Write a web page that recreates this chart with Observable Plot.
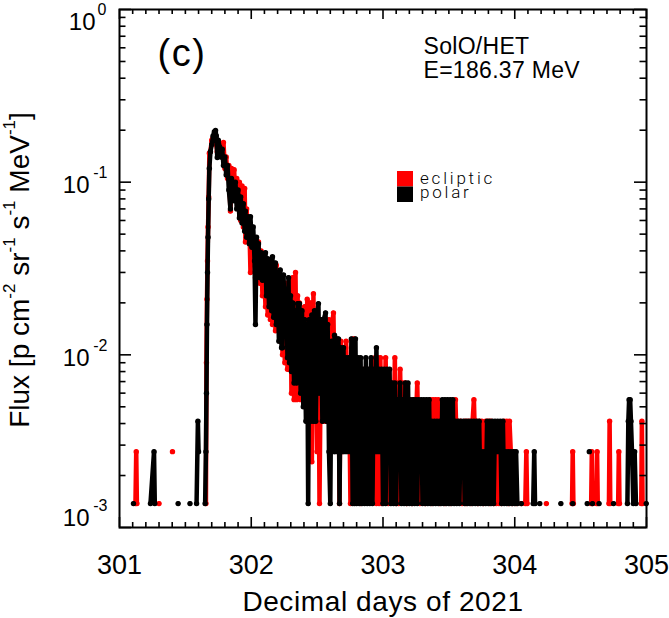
<!DOCTYPE html>
<html><head><meta charset="utf-8">
<script src="https://cdn.jsdelivr.net/npm/d3@7"></script>
<script src="https://cdn.jsdelivr.net/npm/@observablehq/plot@0.6"></script>
<style>
html,body{margin:0;padding:0;background:#fff;}
#chart{width:669px;height:618px;overflow:hidden;}
</style></head><body><div id="chart"></div>
<script>
// Shared time stamps (decimal days of 2021)
const days = [
301.106,301.121,301.127,301.132,301.150,301.235,301.262,301.268,301.280,301.300,
301.320,301.402,301.420,301.445,301.460,301.535,301.550,301.585,301.595,301.600,
301.610,301.650,301.656,301.660,301.664,301.668,301.672,301.677,301.682,301.690,
301.700,301.710,301.720,301.729,301.735,301.742,301.750,301.760,301.770,301.780,
301.789,301.800,301.810,301.820,301.830,301.842,301.850,301.860,301.870,301.880,
301.890,301.900,301.910,301.920,301.930,301.940,301.950,301.956,301.965,301.975,
301.985,301.994,302.005,302.015,302.025,302.032,302.040,302.047,302.055,302.065,
302.075,302.085,302.095,302.108,302.115,302.125,302.135,302.145,302.155,302.161,
302.170,302.184,302.190,302.199,302.210,302.220,302.230,302.237,302.245,302.255,
302.265,302.275,302.283,302.290,302.298,302.305,302.315,302.325,302.336,302.345,
302.352,302.359,302.366,302.375,302.385,302.395,302.405,302.415,302.425,302.432,
302.440,302.450,302.460,302.472,302.480,302.490,302.500,302.510,302.518,302.530,
302.540,302.550,302.564,302.572,302.580,302.590,302.600,302.610,302.624,302.632,
302.640,302.650,302.662,302.670,302.680,302.690,302.700,302.710,302.720,302.730,
302.740,302.753,302.760,302.770,302.776,302.784,302.791,302.800,
302.81,302.82,302.83,302.84,302.85,302.86,302.87,302.88,302.89,302.90,
302.91,302.92,302.93,302.94,302.95,302.96,302.97,302.98,302.99,303.00,
303.01,303.02,303.03,303.04,303.05,303.06,303.07,303.08,303.09,303.10,
303.11,303.12,303.13,303.14,303.15,303.16,303.17,303.18,303.19,303.20,
303.21,303.22,303.23,303.24,303.25,303.26,303.27,303.28,303.29,303.30,
303.31,303.32,303.33,303.34,303.35,303.36,303.37,303.38,303.39,303.40,
303.41,303.42,303.43,303.44,303.45,303.46,303.47,303.48,303.49,303.50,
303.51,303.52,303.53,303.54,303.55,303.56,303.57,303.58,303.59,303.60,
303.61,303.62,303.63,303.64,303.65,303.66,303.67,303.68,303.69,303.70,
303.71,303.72,303.73,303.74,303.75,303.76,303.77,303.78,303.79,303.80,
303.81,303.82,303.83,303.84,303.85,303.86,303.87,303.88,303.89,303.90,
303.91,303.92,303.93,303.94,303.95,303.96,303.97,303.98,303.99,304.00,
304.01,304.02,
304.030,304.050,304.060,304.080,304.088,304.094,304.100,304.140,304.148,304.154,
304.160,304.190,304.200,304.240,304.250,304.350,304.360,304.435,304.440,304.445,
304.455,304.550,304.557,304.566,304.573,304.580,304.585,304.590,304.597,304.620,
304.625,304.630,304.640,304.650,304.715,304.720,304.725,304.735,304.750,304.760,
304.785,304.790,304.795,304.805,304.855,304.862,304.868,304.876,304.882,304.890,
304.900,304.910,304.920,304.930,304.960,304.965,304.970,304.980,304.998
];
// Ecliptic-sector flux, in units of 1e-3 p cm^-2 sr^-1 s^-1 MeV^-1 (null = no counts)
const ecliptic = [
null,1.375,2.75,1.375,null,null,null,null,null,1.375,
null,2.75,null,null,null,null,null,null,null,null,
null,null,1.375,9,21,35,55,82,147,150,
175,180,185,172,165,150,168,150,160,140,
170,120,140,105,125,68,120,85,118,80,
105,75,100,60,95,55,92,45,70,48,
60,30,52,40,46,28,46,30,45,26,
40,22,36,19,34,17,32,16,33,15,
30,13.8,33,14,28,12,26,10,24,9,
26,8.25,25,8.25,27,6,28,5.5,30,5.5,
22,6,20,5.5,18,6,19,5,21,8,
4.125,20,2.4,22.6,4.125,18,2.75,15,1.375,14,
4.125,13,4.125,15,4.125,16,4.125,14,17.5,5.5,
12,4.125,11,1.375,12,2.75,11,4.125,12,5.5,
9.625,1.375,11,4.125,12.375,4.125,9.625,2.75,
4.125,8.25,1.375,6.875,2.75,8.25,4.125,5.5,2.75,8.25,
4.125,6.875,2.75,9.625,1.375,9.625,1.375,9.625,1.375,6.875,
2.75,9.625,2.75,1.375,5.5,2.75,5.5,2.75,9.625,1.375,
6.875,1.375,8.25,2.75,6.875,2.75,6.875,1.375,5.5,2.75,
4.125,1.375,5.5,2.75,4.125,6.875,2.75,1.375,4.125,2.75,
4.125,1.375,4.125,2.75,4.125,5.5,1.375,5.5,2.75,5.5,
2.75,5.5,1.375,4.125,2.75,4.125,1.375,4.125,2.75,4.125,
1.375,4.125,2.75,4.125,5.5,2.75,4.125,2.75,4.125,1.375,
2.75,4.125,1.375,4.125,2.75,4.125,1.375,4.125,5.5,2.75,
4.125,1.375,4.125,2.75,4.125,1.375,2.75,4.125,2.75,4.125,
1.375,4.125,2.75,1.375,2.75,1.375,2.75,1.375,2.75,1.375,
2.75,4.125,2.75,4.125,1.375,4.125,2.75,1.375,2.75,2.75,
1.375,null,
null,1.375,null,1.375,2.75,1.375,null,null,null,null,
null,null,null,1.375,null,null,null,1.375,2.75,1.375,
null,null,null,null,null,1.375,2.75,1.375,null,1.375,
2.75,1.375,null,null,1.375,4.125,1.375,null,null,null,
1.375,2.75,1.375,null,null,null,null,null,null,null,
null,null,null,null,1.375,4.125,1.375,null,null
];
// Polar-sector flux, same units
const polar = [
1.375,null,null,null,null,1.375,2.75,1.375,null,null,
null,null,null,1.375,null,1.375,null,1.375,4.125,2.75,
null,1.375,2.75,6,15,30,48,80,120,150,
165,185,196,199,185,139,175,160,140,155,
125,140,110,125,90,70,105,100,78,100,
70,90,62,82,58,75,52,68,48,63,
44,63,42,55,35,15,48,32,44,28,
39,27,37,39,22,36,19,35,18,37,
16.5,34,15,30,12,31,11,11,29,14,
24,9.625,28,9,22,8,20,6.875,18,6.875,
19.8,9.625,19.8,6,18,5,16,4.125,15,1.375,
16,4.125,17,4.125,18,4.125,17,19.8,6,16,
4.125,16,17.5,4.125,15,2.75,1.375,12,2.75,13,
2.75,12.375,12.375,1.375,11,2.75,11,2.75,9.625,2.75,
9.625,2.75,12.375,1.375,9.625,1.375,12.375,1.375,
9.625,1.375,9.625,1.375,8.25,1.375,9.625,1.375,8.25,1.375,
9.625,1.375,8.25,2.75,11,2.75,8.25,2.75,8.25,1.375,
8.25,1.375,8.25,2.75,8.25,1.375,6.875,1.375,6.875,1.375,
5.5,2.75,6.875,1.375,5.5,1.375,6.875,1.375,6.875,1.375,
5.5,1.375,5.5,1.375,5.5,1.375,5.5,2.75,5.5,1.375,
5.5,1.375,5.5,1.375,5.5,1.375,4.125,1.375,4.125,1.375,
4.125,1.375,4.125,1.375,5.5,1.375,5.5,1.375,5.5,1.375,
5.5,1.375,5.5,1.375,4.125,1.375,4.125,1.375,4.125,2.75,
4.125,1.375,4.125,1.375,4.125,1.375,4.125,1.375,4.125,1.375,
4.125,1.375,4.125,1.375,2.75,1.375,2.75,1.375,4.125,1.375,
4.125,1.375,4.125,1.375,4.125,2.75,4.125,2.75,4.125,1.375,
4.125,1.375,2.75,1.375,2.75,1.375,2.75,1.375,2.75,1.375,
2.75,1.375,
null,1.375,null,null,null,null,null,1.375,2.75,1.375,
null,1.375,null,null,null,1.375,null,null,1.375,null,
null,1.375,null,2.75,null,null,null,1.375,null,null,
null,null,1.375,null,null,null,null,null,1.375,null,
null,null,null,null,1.375,4.125,5.5,5.5,4.125,2.75,
1.375,2.75,1.375,null,null,null,null,null,1.375
];
const xTickValues = [301, 302, 303, 304, 305];
const yTickValues = [1e-3, 1e-2, 1e-1, 1];
const seriesNames = ["ecliptic", "polar"];
const seriesColors = ["#ff0000", "#000000"];

const table = days.map((t, i) => ({
  t,
  ecl: ecliptic[i] == null ? NaN : ecliptic[i] * 1e-3,
  pol: polar[i] == null ? NaN : polar[i] * 1e-3
}));

const W = 669, H = 618, mL = 119, mR = 23, mT = 9, mB = 91;
const frameH = H - mT - mB, frameW = W - mL - mR;
const xMinor = d3.range(3011, 3050).filter(k => k % 10 !== 0).map(k => k / 10);
const yMinor = [];
for (const dec of [1e-3, 1e-2, 1e-1]) for (let m = 2; m <= 9; m++) yMinor.push(m * dec);
const expOf = d => String(Math.round(Math.log10(d)));
const font = "Liberation Sans, Arial, Helvetica, sans-serif";
const tk = {stroke: "black", strokeWidth: 1.6};
const XTITLE = "Decimal days of 2021";

const plot = Plot.plot({
  width: W, height: H,
  marginLeft: mL, marginRight: mR, marginTop: mT, marginBottom: mB,
  style: {fontFamily: font, background: "white", color: "black"},
  x: {domain: [301, 305], axis: null},
  y: {type: "log", domain: [1e-3, 1], axis: null},
  marks: [
    Plot.line(table, {x: "t", y: "ecl", stroke: seriesColors[0], strokeWidth: 4.5, strokeLinejoin: "round", strokeLinecap: "round"}),
    Plot.dot(table, {x: "t", y: "ecl", r: 2.7, fill: seriesColors[0]}),
    Plot.line(table, {x: "t", y: "pol", stroke: seriesColors[1], strokeWidth: 4.5, strokeLinejoin: "round", strokeLinecap: "round"}),
    Plot.dot(table, {x: "t", y: "pol", r: 2.7, fill: seriesColors[1]}),
    // inward ticks on all four sides
    Plot.ruleX(xTickValues, {x: d => d, insetTop: frameH - 10, ...tk}),
    Plot.ruleX(xTickValues, {x: d => d, insetBottom: frameH - 10, ...tk}),
    Plot.ruleX(xMinor, {x: d => d, insetTop: frameH - 5, ...tk}),
    Plot.ruleX(xMinor, {x: d => d, insetBottom: frameH - 5, ...tk}),
    Plot.ruleY(yTickValues, {y: d => d, insetRight: frameW - 12, ...tk}),
    Plot.ruleY(yTickValues, {y: d => d, insetLeft: frameW - 12, ...tk}),
    Plot.ruleY(yMinor, {y: d => d, insetRight: frameW - 6.5, ...tk}),
    Plot.ruleY(yMinor, {y: d => d, insetLeft: frameW - 6.5, ...tk}),
    Plot.frame({stroke: "black", strokeWidth: 2}),
    // x tick labels and title
    Plot.text(xTickValues, {x: d => d, frameAnchor: "bottom", dy: 37.5, text: d => String(d), fontSize: 27, lineAnchor: "middle", fill: "black"}),
    Plot.text([XTITLE], {frameAnchor: "bottom", dy: 83, text: d => d, fontSize: 28, lineAnchor: "bottom", fill: "black"}),
    // y tick labels 10^n
    Plot.text(yTickValues.filter(d => d === 1), {y: d => d, frameAnchor: "left", dx: -24, dy: 13, text: () => "10", textAnchor: "end", lineAnchor: "middle", fontSize: 24, fill: "black"}),
    Plot.text(yTickValues.filter(d => d === 1), {y: d => d, frameAnchor: "left", dx: -13, dy: 5.7, text: expOf, textAnchor: "end", lineAnchor: "bottom", fontSize: 16, fill: "black"}),
    Plot.text(yTickValues.filter(d => d < 1 && d > 1e-3), {y: d => d, frameAnchor: "left", dx: -30, dy: 3, text: () => "10", textAnchor: "end", lineAnchor: "middle", fontSize: 24, fill: "black"}),
    Plot.text(yTickValues.filter(d => d < 1 && d > 1e-3), {y: d => d, frameAnchor: "left", dx: -12, dy: -4.3, text: expOf, textAnchor: "end", lineAnchor: "bottom", fontSize: 16, fill: "black"}),
    Plot.text(yTickValues.filter(d => d === 1e-3), {y: d => d, frameAnchor: "left", dx: -30, dy: -9.5, text: () => "10", textAnchor: "end", lineAnchor: "middle", fontSize: 24, fill: "black"}),
    Plot.text(yTickValues.filter(d => d === 1e-3), {y: d => d, frameAnchor: "left", dx: -12, dy: -16.8, text: expOf, textAnchor: "end", lineAnchor: "bottom", fontSize: 16, fill: "black"}),
    // annotations
    Plot.text(["(c)"], {frameAnchor: "top-left", dx: 38, dy: 56.5, text: d => d, fontSize: 38, textAnchor: "start", lineAnchor: "bottom", fill: "black"}),
    Plot.text(["SolO/HET"], {frameAnchor: "top-left", dx: 304, dy: 44.5, text: d => d, fontSize: 23, textAnchor: "start", lineAnchor: "bottom", fill: "black"}),
    Plot.text(["E=186.37 MeV"], {frameAnchor: "top-left", dx: 304, dy: 68.5, text: d => d, fontSize: 23, textAnchor: "start", lineAnchor: "bottom", fill: "black"})
  ]
});

document.getElementById("chart").appendChild(plot);
const svg = d3.select(plot);
svg.selectAll("text").filter(function() { return this.textContent === XTITLE; }).attr("letter-spacing", 0.6);
svg.selectAll("text").filter(function() { return this.textContent === "(c)"; }).attr("letter-spacing", 1.5).attr("font-weight", 300);
svg.selectAll("text").filter(function() { return this.textContent === "SolO/HET" || this.textContent === "E=186.37 MeV"; }).attr("letter-spacing", 0.3);

// legend
const lg = svg.append("g").attr("text-anchor", "start");
seriesNames.forEach((name, i) => {
  lg.append("rect").attr("x", 397).attr("y", 171 + i * 15.5).attr("width", 16).attr("height", 15.5).attr("fill", seriesColors[i]);
  lg.append("text").attr("x", 420).attr("y", 183.5 + i * 14).attr("text-anchor", "start")
    .attr("font-family", "Roboto, DejaVu Sans, sans-serif")
    .attr("font-weight", 300).attr("font-size", 17).attr("letter-spacing", 2.8).attr("fill", "black").text(name);
});

// y-axis title with superscripts
const yt = svg.append("text").attr("transform", "translate(29,270) rotate(-90)")
  .attr("text-anchor", "middle").attr("font-family", font).attr("font-size", 28).attr("fill", "black")
  .style("white-space", "pre");
const parts = [["Flux [p cm", 0], ["-2", 1], [" sr", 0], ["-1", 1], [" s", 0], ["-1", 1], [" MeV", 0], ["-1", 1], ["]", 0]];
let prevSup = 0;
parts.forEach(([s, sup]) => {
  const ts = yt.append("tspan").text(s);
  if (sup) ts.attr("font-size", 17);
  if (sup && !prevSup) ts.attr("dy", -14);
  if (!sup && prevSup) ts.attr("dy", 14);
  prevSup = sup;
});
</script>
</body></html>
